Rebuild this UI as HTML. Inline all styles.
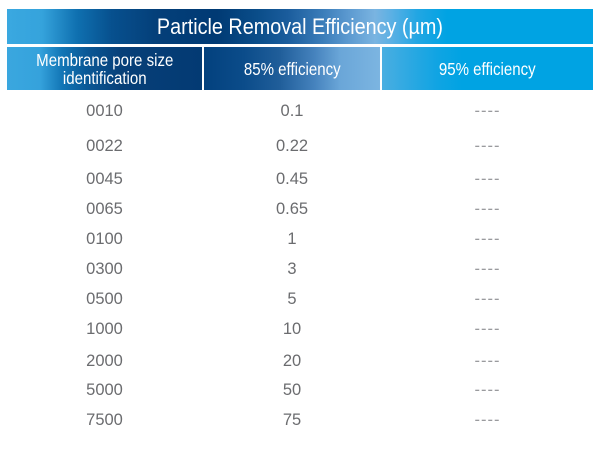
<!DOCTYPE html>
<html>
<head>
<meta charset="utf-8">
<style>
  html, body { margin:0; padding:0; background:#fff; }
  body { width:600px; height:458px; position:relative; overflow:hidden;
         font-family:"Liberation Sans", Arial, sans-serif; }
  .abs { position:absolute; }
  .title { left:7px; top:9px; width:586px; height:35px;
    background:linear-gradient(to right,#3aa8e0 0px,#35a3dc 35px,#0f70b0 70px,#07508e 105px,#043f79 150px,#003a74 210px,#0a4d89 250px,#1a5c9c 280px,#3a7cb9 315px,#5a98cf 340px,#7ab4e1 368px,#5ab0e4 385px,#22a6e3 410px,#00a3e3 440px,#00a3e3 586px);
    color:#fff; text-align:center; }
  .title span { display:inline-block; font-size:22px; line-height:35px; transform:scaleX(0.9); transform-origin:center; white-space:nowrap; }
  .c1 { left:7px; top:47px; width:195px; height:43px;
    background:linear-gradient(to right,#3aa7df 0px,#35a2dc 33px,#1276b6 55px,#0a5896 80px,#073f78 115px,#033a73 195px); }
  .c2 { left:204px; top:47px; width:176px; height:43px;
    background:linear-gradient(to right,#03417e 0px,#0b4c8a 40px,#205e9a 76px,#4582bd 110px,#6aa6d8 136px,#7cb5e1 176px); }
  .c3 { left:382px; top:47px; width:211px; height:43px;
    background:linear-gradient(to right,#4aaee1 0px,#2aa8e2 30px,#10a4e3 55px,#00a3e3 80px,#00a3e3 211px); }
  .hcell { color:#fff; display:flex; align-items:center; justify-content:center; text-align:center; }
  .hcell span { display:inline-block; font-size:17.5px; line-height:18px; transform:scaleX(0.86); white-space:nowrap; }
  .row { position:absolute; left:0; width:600px; height:20px; font-size:16.5px; line-height:20px; color:#6b6c6f; }
  .row div { position:absolute; top:0; text-align:center; }
  .row .a { left:7px; width:195px; }
  .row .b { left:204px; width:176px; }
  .row .d { left:382px; width:211px; color:#9a9b9e; letter-spacing:1px; }
</style>
</head>
<body>
  <div class="abs title"><span>Particle Removal Efficiency (µm)</span></div>
  <div class="abs c1 hcell"><span>Membrane pore size<br>identification</span></div>
  <div class="abs c2 hcell"><span>85% efficiency</span></div>
  <div class="abs c3 hcell"><span>95% efficiency</span></div>

  <div class="row" style="top:101px"><div class="a">0010</div><div class="b">0.1</div><div class="d">----</div></div>
  <div class="row" style="top:135.5px"><div class="a">0022</div><div class="b">0.22</div><div class="d">----</div></div>
  <div class="row" style="top:169px"><div class="a">0045</div><div class="b">0.45</div><div class="d">----</div></div>
  <div class="row" style="top:199px"><div class="a">0065</div><div class="b">0.65</div><div class="d">----</div></div>
  <div class="row" style="top:228.5px"><div class="a">0100</div><div class="b">1</div><div class="d">----</div></div>
  <div class="row" style="top:259px"><div class="a">0300</div><div class="b">3</div><div class="d">----</div></div>
  <div class="row" style="top:289px"><div class="a">0500</div><div class="b">5</div><div class="d">----</div></div>
  <div class="row" style="top:319px"><div class="a">1000</div><div class="b">10</div><div class="d">----</div></div>
  <div class="row" style="top:350.5px"><div class="a">2000</div><div class="b">20</div><div class="d">----</div></div>
  <div class="row" style="top:380px"><div class="a">5000</div><div class="b">50</div><div class="d">----</div></div>
  <div class="row" style="top:410px"><div class="a">7500</div><div class="b">75</div><div class="d">----</div></div>
</body>
</html>
